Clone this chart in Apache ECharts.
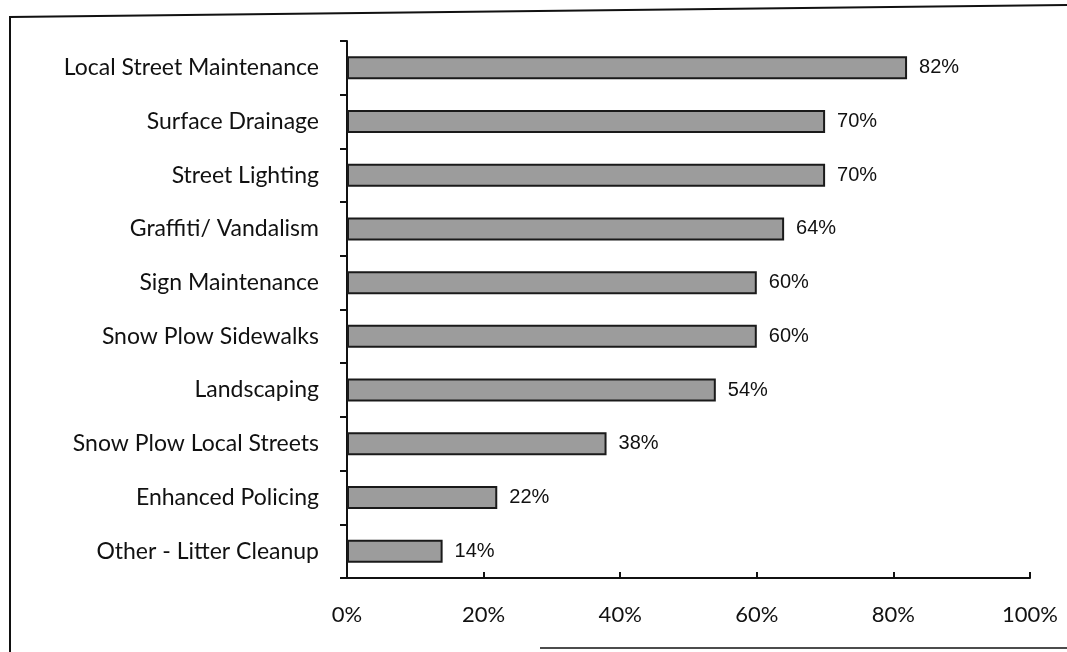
<!DOCTYPE html>
<html>
<head>
<meta charset="utf-8">
<script src="https://cdn.jsdelivr.net/npm/echarts@6/dist/echarts.min.js"></script>
<style>
  html, body { margin: 0; padding: 0; background: #fff; }
  #chart { width: 1067px; height: 652px; }
</style>
</head>
<body>
<div id="chart"></div>
<script>
// Services and the share of respondents rating each one
const categories = [
  'Local Street Maintenance',
  'Surface Drainage',
  'Street Lighting',
  'Graffiti/ Vandalism',
  'Sign Maintenance',
  'Snow Plow Sidewalks',
  'Landscaping',
  'Snow Plow Local Streets',
  'Enhanced Policing',
  'Other - Litter Cleanup'
];
const values = [82, 70, 70, 64, 60, 60, 54, 38, 22, 14];
const xTicks = [0, 20, 40, 60, 80, 100];

const labelFont = 'Lato, "Open Sans", sans-serif';

const chart = echarts.init(document.getElementById('chart'));
chart.setOption({
  animation: false,
  backgroundColor: '#fff',
  grid: { left: 347, right: 37, top: 41, bottom: 74, containLabel: false },
  xAxis: {
    type: 'value',
    min: xTicks[0],
    max: xTicks[xTicks.length - 1],
    interval: 20,
    axisLine: { show: true, lineStyle: { color: '#111', width: 2 } },
    axisTick: { show: true, length: 6, inside: true, lineStyle: { color: '#111', width: 2 } },
    splitLine: { show: false },
    axisLabel: {
      formatter: v => v + '%',
      color: '#111',
      fontFamily: labelFont,
      fontSize: 22,
      margin: 26
    }
  },
  yAxis: {
    type: 'category',
    data: categories,
    inverse: true,
    axisLine: { show: true, lineStyle: { color: '#111', width: 2 } },
    axisTick: { show: true, length: 7, lineStyle: { color: '#111', width: 2 } },
    axisLabel: {
      color: '#111',
      fontFamily: labelFont,
      fontSize: 23,
      margin: 28
    }
  },
  series: [{
    type: 'bar',
    data: values,
    barWidth: 23,
    itemStyle: { color: '#9c9c9c', borderColor: '#1a1a1a', borderWidth: 2 },
    label: {
      show: true,
      position: 'right',
      distance: 12,
      formatter: p => p.value + '%',
      color: '#111',
      fontFamily: 'Liberation Sans, Arial, sans-serif',
      fontSize: 20
    }
  }],
  graphic: [
    { type: 'polyline', shape: { points: [[10, 652], [10, 17], [1067, 5]] },
      style: { stroke: '#111', lineWidth: 2, fill: null } },
    { type: 'line', shape: { x1: 540, y1: 648, x2: 1067, y2: 648 },
      style: { stroke: '#111', lineWidth: 1.5 } }
  ]
});
</script>
</body>
</html>
